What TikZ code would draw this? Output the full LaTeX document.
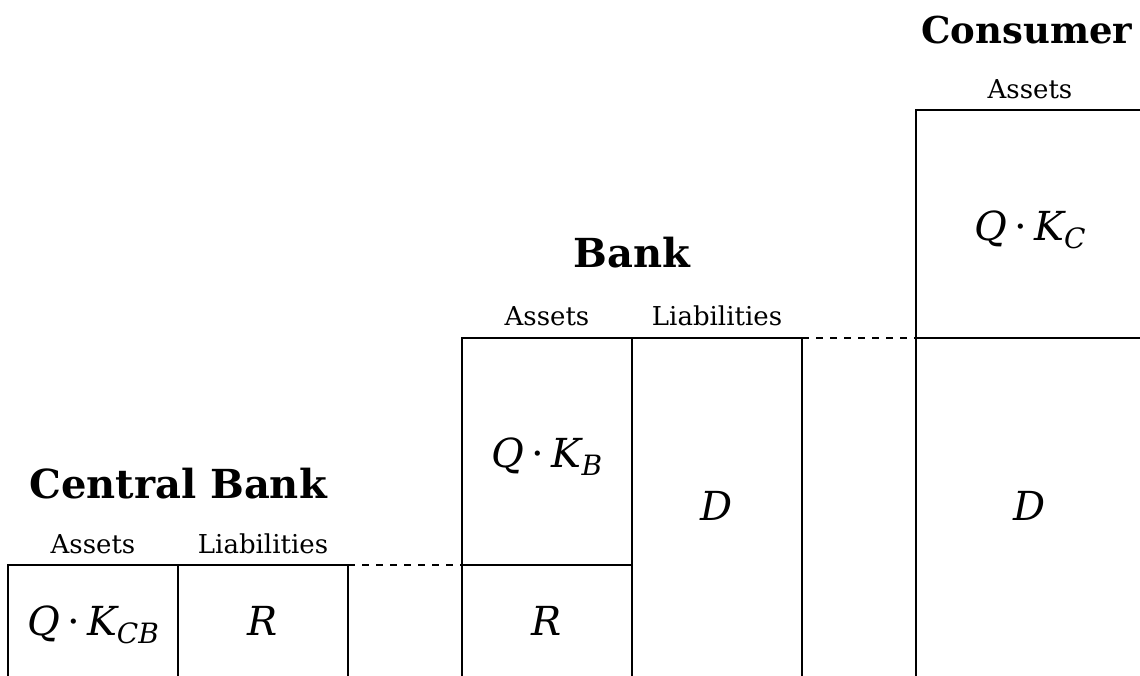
\documentclass[tikz,border=0pt]{standalone}
\usepackage{fontspec}
\setmainfont{DejaVu Serif}
\usetikzlibrary{positioning}

% price times capital with an italic subscript
\newcommand\qkterm[1]{\textit{Q}\hspace{0.18em}·\hspace{0.18em}\textit{K}\kern-0.05em\raisebox{-0.2em}{\fontsize{28}{30}\selectfont\textit{#1}}}

\tikzset{
  cell/.style={draw, line width=1.9pt, rectangle, inner sep=0pt, outer sep=0pt},
  sheettitle/.style={font=\fontsize{40}{48}\selectfont\bfseries, anchor=base, inner sep=0pt},
  colhead/.style={font=\fontsize{26}{30}\selectfont, anchor=base, inner sep=0pt},
  entry/.style={font=\fontsize{40}{48}\selectfont, anchor=base, inner sep=0pt},
  link/.style={dash pattern=on 7pt off 7pt, line width=1.2pt}
}

\begin{document}
\begin{tikzpicture}[x=1pt, y=-1pt]
  \useasboundingbox (0,0) rectangle (1140,675);
  \clip (0,0) rectangle (1140,675);

  % Central bank balance sheet
  \node[cell, minimum width=170pt, minimum height=135pt] (cbA) at (93,632.5) {};
  \node[cell, minimum width=170pt, minimum height=135pt] (cbL) at (263,632.5) {};
  \node[sheettitle] (cbT) at (178,498) {Central Bank};
  \node[colhead] (cbAh) at (93,553) {Assets};
  \node[colhead] (cbLh) at (263,553) {Liabilities};
  \node[entry] (cbAq) at (93,635) {\qkterm{CB}};
  \node[entry] (cbLr) at (263,635) {\textit{R}};

  % Bank balance sheet
  \node[cell, minimum width=170pt, minimum height=227pt] (bA1) at (547,451.5) {};
  \node[cell, minimum width=170pt, minimum height=135pt] (bA2) at (547,632.5) {};
  \node[cell, minimum width=170pt, minimum height=362pt] (bL) at (717,519) {};
  \node[sheettitle] (bT) at (632,267) {Bank};
  \node[colhead] (bAh) at (547,325) {Assets};
  \node[colhead] (bLh) at (717,325) {Liabilities};
  \node[entry] (bAq) at (547,467) {\qkterm{B}};
  \node[entry] (bAr) at (547,635) {\textit{R}};
  \node[entry] (bLd) at (717,520) {\textit{D}};

  % Consumer balance sheet
  \node[cell, minimum width=228pt, minimum height=228pt] (cA1) at (1030,224) {};
  \node[cell, minimum width=228pt, minimum height=362pt] (cA2) at (1030,519) {};
  \node[sheettitle, font=\fontsize{37}{44}\selectfont\bfseries] (cT) at (1027,43) {Consumer};
  \node[colhead] (cAh) at (1030,98) {Assets};
  \node[entry] (cAq) at (1030,240) {\qkterm{C}};
  \node[entry] (cAd) at (1030,520) {\textit{D}};

  % matching claims across sheets
  \draw[link] (cbL.north east) -- (bA2.north west);
  \draw[link] (bL.north east) -- (cA2.north west);
\end{tikzpicture}
\end{document}
